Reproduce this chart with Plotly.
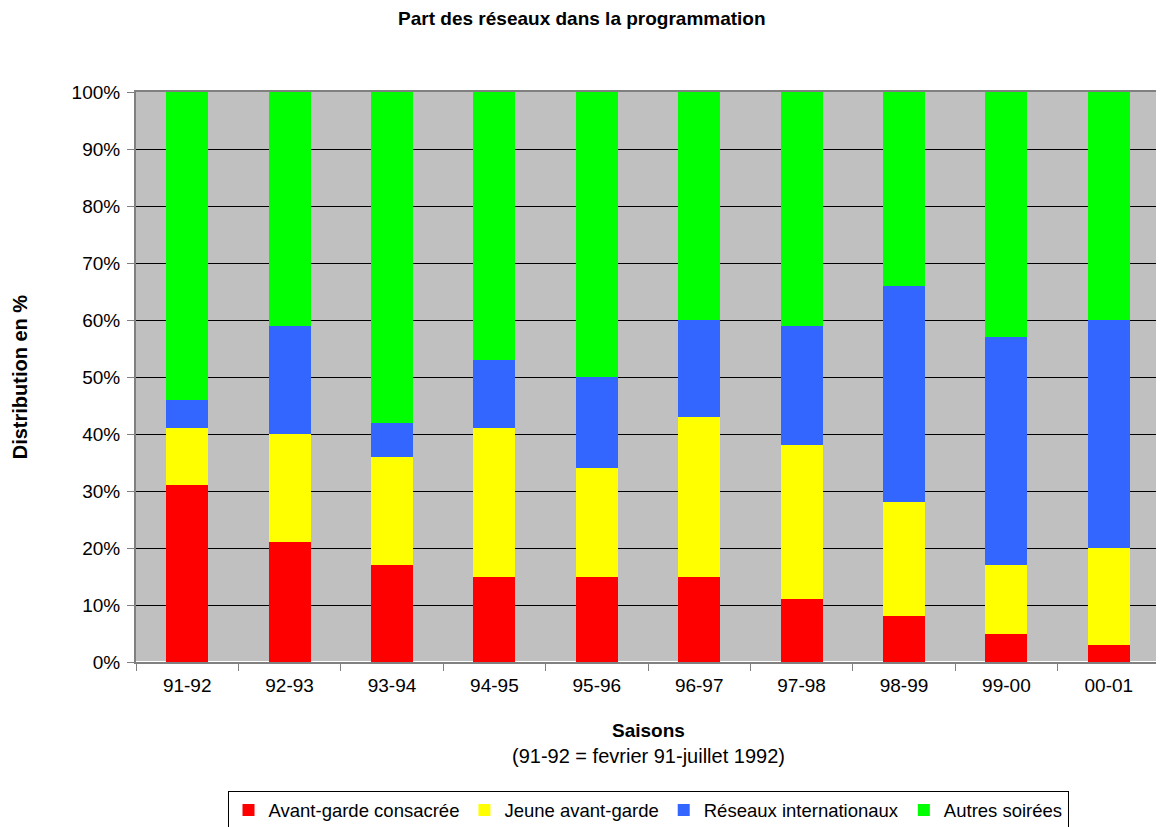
import plotly.graph_objects as go

seasons = ["91-92", "92-93", "93-94", "94-95", "95-96", "96-97", "97-98", "98-99", "99-00", "00-01"]
avant_garde = [31, 21, 17, 15, 15, 15, 11, 8, 5, 3]
jeune = [10, 19, 19, 26, 19, 28, 27, 20, 12, 17]
reseaux = [5, 19, 6, 12, 16, 17, 21, 38, 40, 40]
autres = [54, 41, 58, 47, 50, 40, 41, 34, 43, 40]

series = [
    ("Avant-garde consacrée", avant_garde, "#FF0000"),
    ("Jeune avant-garde", jeune, "#FFFF00"),
    ("Réseaux internationaux", reseaux, "#3366FF"),
    ("Autres soirées", autres, "#00FF00"),
]

fig = go.Figure()
for name, vals, col in series:
    fig.add_trace(go.Bar(x=seasons, y=vals, name=name, marker_color=col,
                         marker_line_width=0))

font = "Liberation Sans, Arial, sans-serif"
fig.update_layout(
    barmode="stack",
    barnorm="percent",
    width=1164, height=827,
    margin=dict(l=128, r=10, t=84, b=173),
    paper_bgcolor="white",
    plot_bgcolor="#C0C0C0",
    bargap=0.59,
    font=dict(family=font, size=19, color="black"),
    title=dict(text="<b>Part des réseaux dans la programmation</b>", x=0.493, xanchor="center",
               y=0.988, yanchor="middle", font=dict(size=19)),
    showlegend=True,
    legend=dict(orientation="h", x=0.5, xanchor="center", yref="container", y=0.0296,
                yanchor="middle", bordercolor="black", borderwidth=1, font=dict(size=18.5),
                traceorder="normal", itemwidth=30, tracegroupgap=0),
    xaxis=dict(type="category", showgrid=False, ticks="outside", tickson="boundaries",
               ticklen=7, tickcolor="#808080", showline=True, linecolor="#808080",
               linewidth=2, mirror=True, tickfont=dict(size=19), ticklabelstandoff=5),
    yaxis=dict(range=[0, 100], dtick=10, ticksuffix="%", showgrid=True, gridcolor="black",
               gridwidth=1, showline=True, linecolor="#808080", linewidth=2, mirror=True,
               ticks="outside", ticklen=7, tickcolor="#808080", tickfont=dict(size=19),
               ticklabelstandoff=3),
    annotations=[
        dict(text="<b>Distribution en %</b>", xref="paper", yref="paper", x=-0.113, y=0.5,
             textangle=-90, showarrow=False, xanchor="center", yanchor="middle",
             font=dict(size=20)),
        dict(text="<b>Saisons</b>", xref="paper", yref="paper", x=0.5, y=-0.121,
             showarrow=False, yanchor="middle", font=dict(size=19)),
        dict(text="(91-92 = fevrier 91-juillet 1992)", xref="paper", yref="paper", x=0.5,
             y=-0.165, showarrow=False, yanchor="middle", font=dict(size=20)),
    ],
)

fig.write_html("out.html")
